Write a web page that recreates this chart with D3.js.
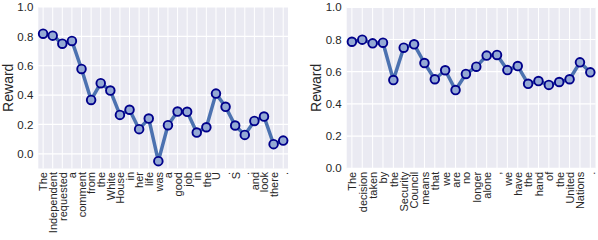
<!DOCTYPE html>
<html>
<head>
<meta charset="utf-8">
<script src="https://cdn.jsdelivr.net/npm/d3@7"></script>
<style>
  body { margin: 0; background: #fff; }
  svg { font-family: "Liberation Sans", Arial, sans-serif; }
  .tick text { fill: #262626; }
</style>
</head>
<body>
<svg id="chart" width="598" height="240"></svg>
<script>
// sentence 1 tokens and rewards
const leftTokens = ['The', 'Independent', 'requested', 'a', 'comment', 'from', 'the', 'White', 'House',
  'in', 'her', 'life', 'was', 'a', 'good', 'job', 'in', 'the', 'U', '.', 'S', '.', 'and', 'look', 'there', '.'];
const leftRewards = [0.818, 0.805, 0.75, 0.769, 0.578, 0.367, 0.481, 0.431, 0.265, 0.30, 0.168, 0.24, -0.05,
  0.195, 0.288, 0.286, 0.145, 0.181, 0.41, 0.32, 0.193, 0.129, 0.224, 0.254, 0.066, 0.09];

// sentence 2 tokens and rewards
const rightTokens = ['The', 'decision', 'taken', 'by', 'the', 'Security', 'Council', 'means', 'that', 'we',
  'are', 'no', 'longer', 'alone', ',', 'we', 'have', 'the', 'hand', 'of', 'the', 'United', 'Nations', '.'];
const rightRewards = [0.786, 0.799, 0.776, 0.78, 0.548, 0.749, 0.77, 0.654, 0.553, 0.609, 0.486, 0.586,
  0.631, 0.70, 0.704, 0.61, 0.635, 0.525, 0.542, 0.518, 0.536, 0.553, 0.658, 0.596];

const leftTicks = [0.0, 0.2, 0.4, 0.6, 0.8, 1.0];
const rightTicks = [0.0, 0.2, 0.4, 0.6, 0.8, 1.0];

const svg = d3.select('#chart');

function drawPanel(cfg) {
  const width = cfg.x1 - cfg.x0;
  const height = cfg.y1 - cfg.y0;
  const g = svg.append('g')
    .attr('transform', `translate(${cfg.x0},${cfg.y0})`);

  const xScale = d3.scaleLinear()
    .domain([-0.5, cfg.tokens.length - 0.5])
    .range([0, width]);
  const yScale = d3.scaleLinear()
    .domain(cfg.yDomain)
    .range([height, 0]);

  // background
  g.append('rect')
    .attr('width', width)
    .attr('height', height)
    .attr('fill', '#eaeaf2');

  // grid
  g.selectAll('.vgrid')
    .data(cfg.tokens.map((d, i) => i))
    .join('line')
    .attr('class', 'vgrid')
    .attr('x1', (d) => xScale(d))
    .attr('x2', (d) => xScale(d))
    .attr('y1', 0)
    .attr('y2', height)
    .attr('stroke', '#fff')
    .attr('stroke-width', 1);
  g.selectAll('.hgrid')
    .data(cfg.ticks)
    .join('line')
    .attr('class', 'hgrid')
    .attr('x1', 0)
    .attr('x2', width)
    .attr('y1', (d) => yScale(d))
    .attr('y2', (d) => yScale(d))
    .attr('stroke', '#fff')
    .attr('stroke-width', 1.2);

  // y axis
  const yAxis = d3.axisLeft(yScale)
    .tickValues(cfg.ticks)
    .tickFormat(d3.format('.1f'))
    .tickSize(0)
    .tickPadding(5);
  const yAxisG = g.append('g').call(yAxis);
  yAxisG.select('.domain').remove();
  yAxisG.selectAll('text')
    .attr('font-size', 11.5)
    .attr('font-family', '"Liberation Sans", Arial, sans-serif');

  // x axis with rotated token labels
  const xAxis = d3.axisBottom(xScale)
    .tickValues(cfg.tokens.map((d, i) => i))
    .tickFormat((i) => cfg.tokens[i])
    .tickSize(0);
  const xAxisG = g.append('g')
    .attr('transform', `translate(0,${height})`)
    .call(xAxis);
  xAxisG.select('.domain').remove();
  xAxisG.selectAll('text')
    .attr('font-size', 11)
    .attr('font-family', '"Liberation Sans", Arial, sans-serif')
    .attr('text-anchor', 'end')
    .attr('transform', 'translate(0,3.5) rotate(-90)')
    .attr('x', 0)
    .attr('y', 0)
    .attr('dy', '0.35em');

  // y axis title
  g.append('text')
    .attr('text-anchor', 'middle')
    .attr('font-size', 14)
    .attr('fill', '#262626')
    .attr('transform', `translate(${cfg.titleX},${height / 2}) rotate(-90)`)
    .text('Reward');

  // line and markers
  const line = d3.line()
    .x((d, i) => xScale(i))
    .y((d) => yScale(d));
  g.append('path')
    .datum(cfg.values)
    .attr('d', line)
    .attr('fill', 'none')
    .attr('stroke', '#4c72b0')
    .attr('stroke-width', 3.5)
    .attr('stroke-linejoin', 'round');
  g.selectAll('.pt')
    .data(cfg.values)
    .join('circle')
    .attr('class', 'pt')
    .attr('cx', (d, i) => xScale(i))
    .attr('cy', (d) => yScale(d))
    .attr('r', 4.3)
    .attr('fill', '#94a9d4')
    .attr('stroke', '#00008b')
    .attr('stroke-width', 1.9);
}

drawPanel({
  tokens: leftTokens, values: leftRewards, ticks: leftTicks,
  yDomain: [-0.1, 1.0], x0: 38.3, x1: 288, y0: 7, y1: 168.5, titleX: -25.8,
});
drawPanel({
  tokens: rightTokens, values: rightRewards, ticks: rightTicks,
  yDomain: [0, 1.0], x0: 346.7, x1: 595.5, y0: 7.3, y1: 168.3, titleX: -25.7,
});
</script>
</body>
</html>
